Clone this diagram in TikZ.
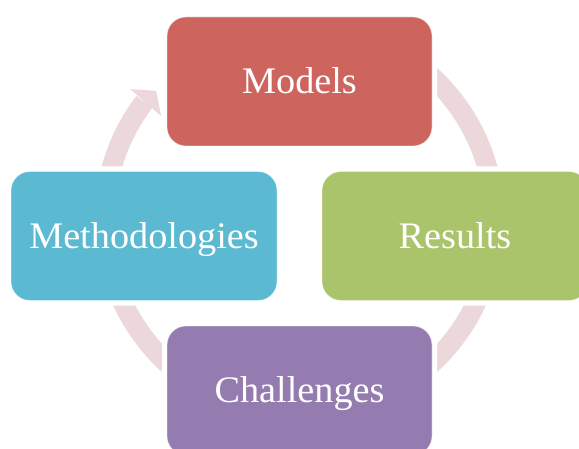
\documentclass[tikz,border=0pt]{standalone}
\usepackage{fontspec}
\setmainfont{Liberation Serif}[FakeStretch=1.02]

\definecolor{modelred}{RGB}{205,101,94}
\definecolor{resultgreen}{RGB}{170,196,108}
\definecolor{challpurple}{RGB}{148,124,176}
\definecolor{methodblue}{RGB}{91,185,210}
\definecolor{ringpink}{RGB}{236,216,218}

\begin{document}
\begin{tikzpicture}[x=1pt, y=1pt,
    box/.style={rectangle, rounded corners=19pt, minimum width=265pt, minimum height=129pt,
        inner sep=0pt, text=white, font=\fontsize{37.5}{45}\selectfont,
        text height=24.6pt, text depth=0pt, draw=white, draw opacity=0.5, line width=0.8pt,
        preaction={draw=white, draw opacity=1, line width=10pt}},
    ring/.style={draw=ringpink, line width=20pt}]
    \useasboundingbox (0,0) rectangle (579,448);
    \clip (0,0) rectangle (579,448);

    % cycle behind the boxes
    \coordinate (hub) at (299.5,228);
    \draw[ring] ([shift={(128:195)}]hub) arc[start angle=128, end angle=-217.3, radius=195];
    \fill[ringpink] ([shift={(142.3:214)}]hub) -- ([shift={(138:193)}]hub) -- ([shift={(143.1:173)}]hub) -- cycle;

    \node[box, fill=modelred] (models) at (299.5,366.5) {Models};
    \node[box, fill=resultgreen, minimum width=266pt] (results) at (455,212) {Results};
    \node[box, fill=challpurple] (challenges) at (299.5,57.5) {Challenges};
    \node[box, fill=methodblue, minimum width=266pt] (methods) at (144,212) {Methodologies};

\end{tikzpicture}
\end{document}
